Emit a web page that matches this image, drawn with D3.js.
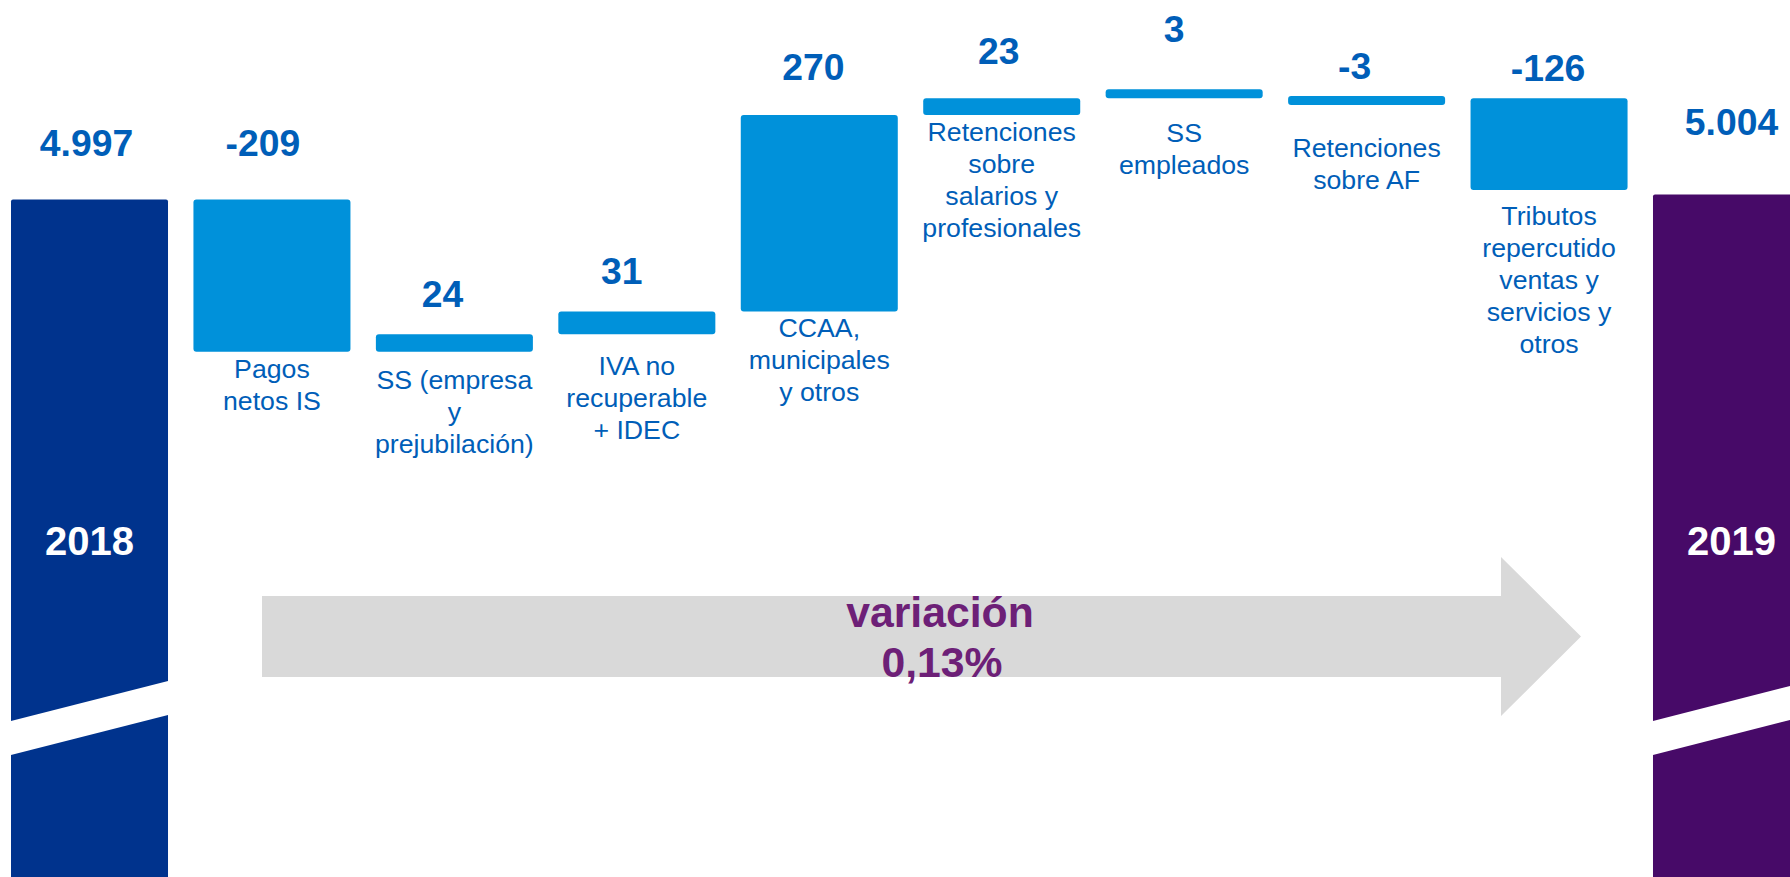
<!doctype html>
<html lang=es>
<head>
  <meta charset="utf-8">
  <title>Variación 2018-2019</title>
  <style>
body {
  margin: 0;
  background: #fff;
  overflow: hidden;
}
svg text {
  font-family: "Liberation Sans", Arial, sans-serif;
}
  </style>
</head>
<body>
<div id=content></div>

<script src="https://cdn.jsdelivr.net/npm/d3@7"></script>
<script>

  // datos
  var anios = ["2018", "2019"]
  var totales = [4997, 5004]
  var conceptos = [
    ["Pagos", "netos IS"],
    ["SS (empresa", "y", "prejubilación)"],
    ["IVA no", "recuperable", "+ IDEC"],
    ["CCAA,", "municipales", "y otros"],
    ["Retenciones", "sobre", "salarios y", "profesionales"],
    ["SS", "empleados"],
    ["Retenciones", "sobre AF"],
    ["Tributos", "repercutido", "ventas y", "servicios y", "otros"]
  ]
  var variaciones = [-209, 24, 31, 270, 23, 3, -3, -126]
  var variacionPct = 0.13

  // ajustes de maquetacion (posicion de los textos respecto a la barra)
  var valueGap = [44, 44, 27, 28, 35, 34, 47, 17, 17, 59]
  var valueDx = [-3, -9, -12, -15, -6, -3, -10, -12, -1, 0]
  var labelGap = [26, 37, 41, 25, 26, 44, 52, 35]

  var W = 1790, H = 877
  var colors = {total0: "#00338D", total1: "#470A68", bar: "#0091DA",
                value: "#005EB8", label: "#005EB8", arrow: "#D9D9D9", pct: "#6D2077"}

  var es = d3.formatLocale({decimal: ",", thousands: ".", grouping: [3], currency: ["", "€"]})
  var fmtTotal = es.format(",d")
  var fmtPct = es.format(".2f")

  // pasos de la cascada
  var steps = []
  var level = totales[0]
  steps.push({key: anios[0], type: "total", from: 0, to: totales[0], value: totales[0]})
  variaciones.forEach(function(v, i){
    steps.push({key: "c" + i, type: "delta", from: level, to: level + v, value: v, lines: conceptos[i]})
    level += v
  })
  steps.push({key: anios[1], type: "total", from: 0, to: totales[1], value: totales[1]})

  var x = d3.scaleBand()
            .domain(steps.map(d => d.key))
            .range([11, 1810])
            .paddingInner(0.1394)
            .paddingOuter(0)

  // eje con corte: 4997 arriba en ~199px, 0.728 px por unidad
  var y = d3.scaleLinear()
            .domain([4997, 5136])
            .range([199.5, 98.3])

  var minH = 9

  var svg = d3.select("#content").append("svg")
     .attr("width", W)
     .attr("height", H)

  // flecha gris de variacion
  var ax0 = 262, ax1 = 1501, tip = 1581, ayc = 636.5
  svg.append("path")
     .attr("d", d3.line()([[ax0, ayc - 40.5], [ax1, ayc - 40.5], [ax1, ayc - 79.5], [tip, ayc],
                          [ax1, ayc + 79.5], [ax1, ayc + 40.5], [ax0, ayc + 40.5]]) + "Z")
     .attr("fill", colors.arrow)

  svg.append("text")
     .attr("x", 940).attr("y", 627)
     .attr("text-anchor", "middle")
     .attr("font-size", 42.7).attr("font-weight", "bold")
     .attr("fill", colors.pct)
     .text("variación")
  svg.append("text")
     .attr("x", 942).attr("y", 677)
     .attr("text-anchor", "middle")
     .attr("font-size", 42.7).attr("font-weight", "bold")
     .attr("fill", colors.pct)
     .text(fmtPct(variacionPct) + "%")

  // barras
  function barBox(d){
    if (d.type == "total") return {top: y(d.to), bottom: H + 10}
    var y0 = y(d.from), y1 = y(d.to)
    var top = Math.min(y0, y1), bottom = Math.max(y0, y1)
    if (bottom - top < minH) {
      if (d.value > 0) top = bottom - minH
      else bottom = top + minH
    }
    return {top: top, bottom: bottom}
  }

  steps.forEach(function(d, i){
    var b = barBox(d)
    d.top = b.top
    d.bottom = b.bottom
    d.i = i
  })

  var g = svg.append("g")

  g.selectAll("rect.bar")
   .data(steps)
   .enter().append("rect")
     .attr("class", "bar")
     .attr("x", d => x(d.key))
     .attr("y", d => d.top)
     .attr("width", x.bandwidth())
     .attr("height", d => d.bottom - d.top)
     .attr("rx", d => d.type == "total" ? 2 : 3)
     .attr("fill", (d, i) => d.type == "delta" ? colors.bar : (i == 0 ? colors.total0 : colors.total1))

  // corte del eje en las barras de totales
  var slope = -0.255, breakY = 738, thick = 34
  steps.filter(d => d.type == "total").forEach(function(d){
    var l = x(d.key) - 2, r = x(d.key) + x.bandwidth() + 2
    var yl = breakY - slope * 2, yr = breakY + slope * (r - x(d.key))
    g.append("path")
     .attr("d", d3.line()([[l, yl - thick / 2], [r, yr - thick / 2], [r, yr + thick / 2], [l, yl + thick / 2]]) + "Z")
     .attr("fill", "#fff")
  })

  // valores
  g.selectAll("text.value")
   .data(steps)
   .enter().append("text")
     .attr("class", "value")
     .attr("x", d => x(d.key) + x.bandwidth() / 2 + valueDx[d.i])
     .attr("y", d => d.top - valueGap[d.i])
     .attr("text-anchor", "middle")
     .attr("font-size", 37.3)
     .attr("font-weight", "bold")
     .attr("fill", colors.value)
     .text(d => d.type == "total" ? fmtTotal(d.value) : d.value)

  // anios dentro de las barras
  g.selectAll("text.year")
   .data(steps.filter(d => d.type == "total"))
   .enter().append("text")
     .attr("class", "year")
     .attr("x", d => x(d.key) + x.bandwidth() / 2)
     .attr("y", 555)
     .attr("text-anchor", "middle")
     .attr("font-size", 40)
     .attr("font-weight", "bold")
     .attr("fill", "#fff")
     .text(d => d.key)

  // etiquetas de conceptos
  var deltas = steps.filter(d => d.type == "delta")
  var lab = g.selectAll("text.label")
   .data(deltas)
   .enter().append("text")
     .attr("class", "label")
     .attr("text-anchor", "middle")
     .attr("font-size", 26.7)
     .attr("fill", colors.label)

  lab.each(function(d, j){
    var t = d3.select(this)
    var cx = x(d.key) + x.bandwidth() / 2
    var y0 = d.bottom + labelGap[j]
    d.lines.forEach(function(s, k){
      t.append("tspan")
       .attr("x", cx)
       .attr("y", y0 + k * 32)
       .text(s)
    })
  })

</script>
</body>
</html>
